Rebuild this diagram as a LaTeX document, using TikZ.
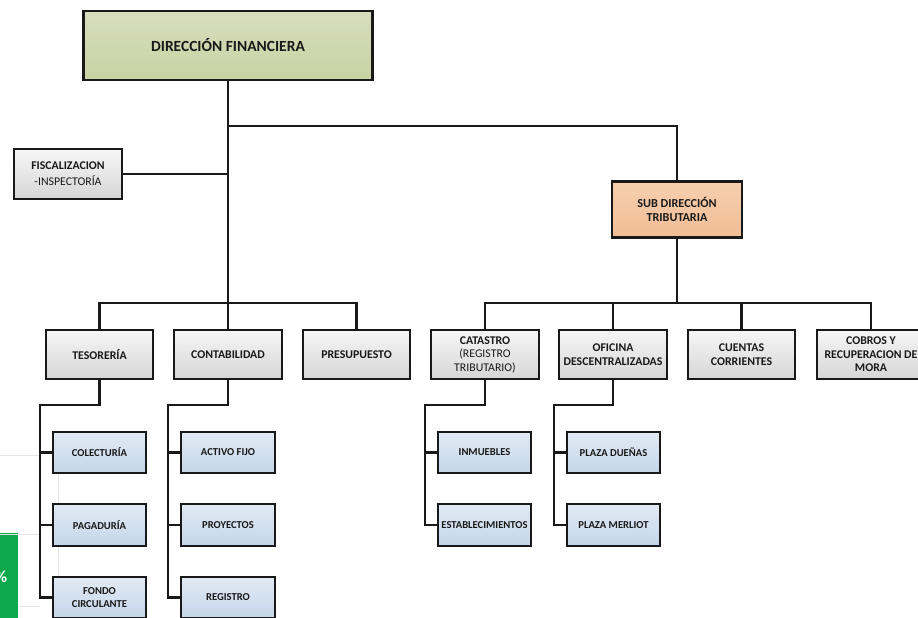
\documentclass[tikz,border=0pt]{standalone}
\usepackage{fontspec}
\setmainfont{Carlito}
\usepackage{xcolor}
\usetikzlibrary{positioning}

\definecolor{olivoA}{RGB}{216,222,190}
\definecolor{olivoB}{RGB}{200,210,162}
\definecolor{salmonA}{RGB}{247,208,176}
\definecolor{salmonB}{RGB}{240,188,148}
\definecolor{grisA}{RGB}{246,246,246}
\definecolor{grisB}{RGB}{214,214,214}
\definecolor{azulA}{RGB}{226,234,244}
\definecolor{azulB}{RGB}{196,214,234}
\definecolor{verdeX}{RGB}{14,168,76}

\begin{document}
\begin{tikzpicture}[x=1pt, y=-1pt,
  caja/.style={draw=black!90, line width=2.1pt, align=center, inner sep=1pt,
    top color=grisA, bottom color=grisB, text=black!90,
    font=\bfseries\fontsize{11.8}{13.5}\selectfont,
    minimum width=107.5pt, minimum height=49.5pt},
  hoja/.style={caja, top color=azulA, bottom color=azulB,
    font=\bfseries\fontsize{10.6}{12.7}\selectfont,
    minimum width=93.5pt, minimum height=41.5pt},
  linea/.style={draw=black!90, line width=2.1pt}]

\useasboundingbox (0,0) rectangle (918,618);

% fondo recortado de la captura
\fill[verdeX] (0,533) rectangle (18,618);
\begin{scope}
  \clip (0,533) rectangle (18,618);
  \node[text=white, font=\bfseries\fontsize{17}{17}\selectfont] (pct) at (1,577) {\%};
\end{scope}
\path[draw] [black!10, line width=0.6pt] (0,455) -- (40,455);
\path[draw] [black!10, line width=0.6pt] (0,534) -- (40,534);
\path[draw] [black!10, line width=0.6pt] (18,606) -- (40,606);
\path[draw] [black!10, line width=0.6pt] (58,474) -- (58,503);
\path[draw] [black!10, line width=0.6pt] (58,547) -- (58,576);

% nivel superior
\node[caja, top color=olivoA, bottom color=olivoB, minimum width=289pt, minimum height=69pt,
  font=\bfseries\fontsize{15.5}{17}\selectfont] (dir) at (228,45.5) {DIRECCIÓN FINANCIERA};
\node[caja, minimum width=108pt, minimum height=50pt,
  font=\fontsize{11.8}{16}\selectfont] (fis) at (68,174) {\textbf{FISCALIZACION}\\-INSPECTORÍA};
\node[caja, top color=salmonA, bottom color=salmonB, minimum width=130pt, minimum height=56pt,
  font=\bfseries\fontsize{12.2}{14}\selectfont] (sub) at (677,209.5) {SUB DIRECCIÓN\\TRIBUTARIA};

% departamentos
\node[caja] (tes) at (99.5,354.5) {TESORERÍA};
\node[caja] (con) at (228,354.5) {CONTABILIDAD};
\node[caja] (pre) at (356.5,354.5) {PRESUPUESTO};
\node[caja] (cat) at (485,354.5) {CATASTRO\\{\mdseries (REGISTRO}\\{\mdseries TRIBUTARIO)}};
\node[caja] (ofi) at (613,354.5) {OFICINA\\DESCENTRALIZADAS};
\node[caja] (cue) at (741.5,354.5) {CUENTAS\\CORRIENTES};
\node[caja] (cob) at (871,354.5) {COBROS Y\\RECUPERACION DE\\MORA};

% unidades
\node[hoja] (col) at (99.5,452.5) {COLECTURÍA};
\node[hoja] (pag) at (99.5,525) {PAGADURÍA};
\node[hoja] (fon) at (99.5,597.5) {FONDO\\CIRCULANTE};
\node[hoja] (act) at (228,452.5) {ACTIVO FIJO};
\node[hoja] (pro) at (228,525) {PROYECTOS};
\node[hoja] (reg) at (228,597.5) {REGISTRO};
\node[hoja] (inm) at (484.5,452.5) {INMUEBLES};
\node[hoja] (est) at (484.5,525) {ESTABLECIMIENTOS};
\node[hoja] (pdu) at (613.5,452.5) {PLAZA DUEÑAS};
\node[hoja] (pme) at (613.5,525) {PLAZA MERLIOT};

% puntos de las barras
\coordinate (j1) at (228,126);
\coordinate (bI) at (228,303);
\coordinate (bD) at (677,303);
\coordinate (tT) at (40,405);
\coordinate (tC) at (168,405);
\coordinate (tA) at (425,405);
\coordinate (tO) at (554,405);

% conectores
\path[linea] (dir.south) -- (con.north);
\path[linea] (fis.east) -- (fis.east -| dir.south);
\path[linea] (j1) -| (sub.north);
\path[linea] (tes.north) |- (bI) -| (pre.north);
\path[linea] (sub.south) -- (bD);
\path[linea] (cat.north) |- (bD) -| (cob.north);
\path[linea] (ofi.north) -- (ofi.north |- bD);
\path[linea] (cue.north) -- (cue.north |- bD);

\path[linea] (tes.south) |- (tT) |- (fon.west);
\path[linea] (tT |- col.west) -- (col.west);
\path[linea] (tT |- pag.west) -- (pag.west);
\path[linea] (con.south) |- (tC) |- (reg.west);
\path[linea] (tC |- act.west) -- (act.west);
\path[linea] (tC |- pro.west) -- (pro.west);
\path[linea] (cat.south) |- (tA) |- (est.west);
\path[linea] (tA |- inm.west) -- (inm.west);
\path[linea] (ofi.south) |- (tO) |- (pme.west);
\path[linea] (tO |- pdu.west) -- (pdu.west);

\end{tikzpicture}
\end{document}
